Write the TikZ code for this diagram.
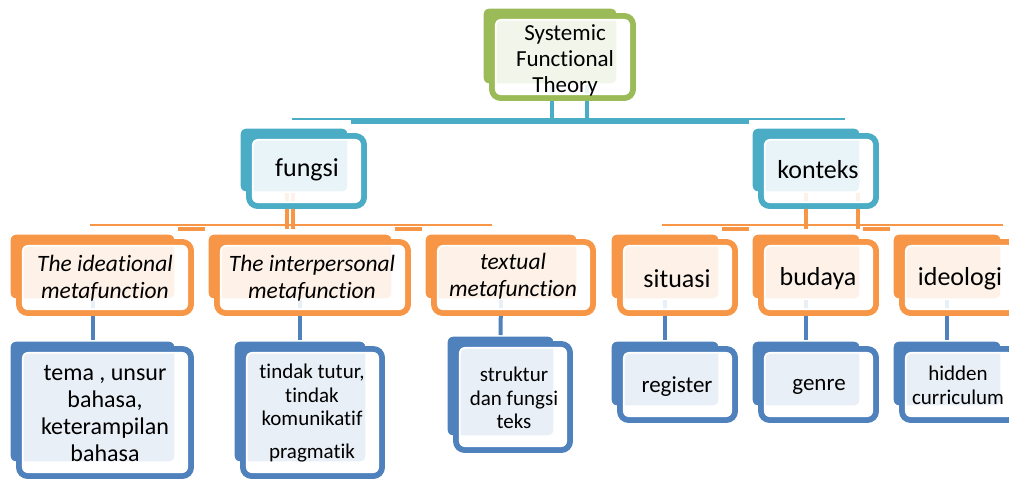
\documentclass[tikz,border=0pt]{standalone}
\usepackage{fontspec}
\setmainfont{Carlito}[Ligatures={NoCommon,NoContextual}]
\usetikzlibrary{fit}
\definecolor{cgreen}{HTML}{9BBB59}
\definecolor{cteal}{HTML}{4BACC6}
\definecolor{corange}{HTML}{F79646}
\definecolor{cblue}{HTML}{4F81BD}
\newcommand\fsz[2]{\fontsize{#1}{#2}\selectfont}
\newcommand\backbox[6]{\node[backbox=#2, fit={(#3,#4)(#5,#6)}] (#1b) {};}
\newcommand\frontbox[6]{%
  \node[frontbox=#2, fit={(#3+10,#4+9)(#5+15,#6+13)}] (#1f) {};
  \draw[innerline] ([xshift=2.8pt,yshift=2.8pt]#1f.south west) rectangle ([xshift=-2.8pt,yshift=-2.8pt]#1f.north east);}
\begin{document}
\begin{tikzpicture}[x=0.75pt,y=-0.75pt,
  backbox/.style={inner sep=0pt, outer sep=0pt, rounded corners=5pt, draw=white, line width=2.5pt, fill=#1},
  frontbox/.style={inner sep=0pt, outer sep=0pt, rounded corners=6.5pt, draw=#1, line width=4.4pt, fill=white, fill opacity=0.88},
  innerline/.style={draw=white, line width=1.2pt, rounded corners=4pt},
  lbl/.style={align=center, inner sep=0pt, text=black},
  vconn/.style={draw=#1, line width=3pt},
  hthin/.style={draw=#1, line width=1.1pt},
  hthick/.style={draw=#1, line width=3pt}]
\useasboundingbox (0,0) rectangle (1009,479);
\fill[white] (0,0) rectangle (1009,479);
% named coordinates for bar levels
\coordinate (y1thin) at (0,119);
\coordinate (y1thick) at (0,122);
\coordinate (y2thin) at (0,225);
\coordinate (y2thick) at (0,229);
\coordinate (h1l) at (292,119);
\coordinate (h1r) at (845,119);
\coordinate (h2l) at (90,225);
\coordinate (h2r) at (492,225);
\coordinate (h3l) at (662,225);
\coordinate (h3r) at (1003,225);
% thin bars
\draw[hthin=cteal] (h1l) -- (h1r);
\draw[hthin=corange] (h2l) -- (h2r);
\draw[hthin=corange] (h3l) -- (h3r);
% back boxes
\backbox{root}{cgreen}{482}{7}{618}{85}
\backbox{fung}{cteal}{239}{127}{349}{193}
\backbox{kont}{cteal}{751}{127}{861}{193}
\backbox{ide}{corange}{9}{233}{176}{300}
\backbox{inter}{corange}{207}{233}{393}{300}
\backbox{txt}{corange}{424}{233}{578}{300}
\backbox{sit}{corange}{610}{233}{720}{300}
\backbox{bud}{corange}{751}{233}{861}{300}
\backbox{ideo}{corange}{892}{233}{1002}{300}
\backbox{tema}{cblue}{9}{340}{176}{463}
\backbox{tind}{cblue}{233}{340}{367}{463}
\backbox{strk}{cblue}{446}{335}{555}{437}
\backbox{reg}{cblue}{610}{340}{720}{407}
\backbox{gen}{cblue}{751}{340}{861}{407}
\backbox{hid}{cblue}{892}{340}{1002}{407}
% thick bars between boxes
\draw[hthick=cteal] ([xshift=1.5pt]fungb.north east |- y1thick) -- ([xshift=-1.5pt]kontb.north west |- y1thick);
\draw[hthick=corange] ([xshift=1.5pt]ideb.north east |- y2thick) -- ([xshift=-1.5pt]interb.north west |- y2thick);
\draw[hthick=corange] ([xshift=1.5pt]interb.north east |- y2thick) -- ([xshift=-1.5pt]txtb.north west |- y2thick);
\draw[hthick=corange] ([xshift=1.5pt]sitb.north east |- y2thick) -- ([xshift=-1.5pt]budb.north west |- y2thick);
\draw[hthick=corange] ([xshift=1.5pt]budb.north east |- y2thick) -- ([xshift=-1.5pt]ideob.north west |- y2thick);
% vertical connectors
\draw[vconn=cteal] ([xshift=1.5pt]rootb.south) -- ([xshift=1.5pt]rootb.south |- y1thick);
\draw[vconn=cteal] ([xshift=27.75pt]rootb.south) -- ([xshift=27.75pt]rootb.south |- y1thick);
\draw[vconn=corange] ([xshift=-0.75pt]fungb.south) -- ([xshift=-0.75pt]fungb.south |- y2thick);
\draw[vconn=corange] ([xshift=-5.25pt]fungb.south) -- ([xshift=-5.25pt]fungb.south |- y2thick);
\draw[vconn=corange] (kontb.south) -- (kontb.south |- y2thick);
\draw[vconn=corange] ([xshift=39pt]kontb.south) -- ([xshift=39pt]kontb.south |- y2thick);
\draw[vconn=cblue] (ideb.south) -- (temab.north);
\draw[vconn=cblue] (interb.south) -- (tindb.north);
\draw[vconn=cblue] (txtb.south) -- (strkb.north);
\draw[vconn=cblue] (sitb.south) -- (regb.north);
\draw[vconn=cblue] (budb.south) -- (genb.north);
\draw[vconn=cblue] (ideob.south) -- (hidb.north);
% front boxes
\frontbox{root}{cgreen}{482}{7}{618}{85}
\frontbox{fung}{cteal}{239}{127}{349}{193}
\frontbox{kont}{cteal}{751}{127}{861}{193}
\frontbox{ide}{corange}{9}{233}{176}{300}
\frontbox{inter}{corange}{207}{233}{393}{300}
\frontbox{txt}{corange}{424}{233}{578}{300}
\frontbox{sit}{corange}{610}{233}{720}{300}
\frontbox{bud}{corange}{751}{233}{861}{300}
\frontbox{ideo}{corange}{892}{233}{1002}{300}
\frontbox{tema}{cblue}{9}{340}{176}{463}
\frontbox{tind}{cblue}{233}{340}{367}{463}
\frontbox{strk}{cblue}{446}{335}{555}{437}
\frontbox{reg}{cblue}{610}{340}{720}{407}
\frontbox{gen}{cblue}{751}{340}{861}{407}
\frontbox{hid}{cblue}{892}{340}{1002}{407}
% labels
\node[lbl, font=\fsz{17.25}{19.5}] (roott) at (565,60) {Systemic\\Functional\\Theory};
\node[lbl, font=\fsz{19.5}{22}] (fungt) at (307,170) {fungsi};
\node[lbl, font=\fsz{19.5}{22}] (kontt) at (818,170) {konteks};
\node[lbl, font=\fsz{17.6}{20.25}\itshape] (idet) at (105,278) {The ideational\\metafunction};
\node[lbl, font=\fsz{17.6}{20.25}\itshape] (intert) at (312,278) {The interpersonal\\metafunction};
\node[lbl, font=\fsz{17.6}{20.25}\itshape] (txtt) at (513,276) {textual\\metafunction};
\node[lbl, font=\fsz{19.5}{22}] (sitt) at (677,279) {situasi};
\node[lbl, font=\fsz{19.5}{22}] (budt) at (818,279) {budaya};
\node[lbl, font=\fsz{19.5}{22}] (ideot) at (960,279) {ideologi};
\node[lbl, font=\fsz{18}{20.25}] (temat) at (105,413) {tema , unsur\\bahasa,\\keterampilan\\bahasa};
\node[lbl, font=\fsz{15.75}{17.6}] (tindt) at (312,413) {tindak tutur,\\tindak\\komunikatif\\[7pt]pragmatik};
\node[lbl, font=\fsz{15.75}{17.6}] (strkt) at (514,398) {struktur\\dan fungsi\\teks};
\node[lbl, font=\fsz{17.25}{19.5}] (regt) at (677,387) {register};
\node[lbl, font=\fsz{17.25}{19.5}] (gent) at (819,387) {genre};
\node[lbl, font=\fsz{15.75}{18}] (hidt) at (958,385) {hidden\\curriculum};
\end{tikzpicture}
\end{document}
